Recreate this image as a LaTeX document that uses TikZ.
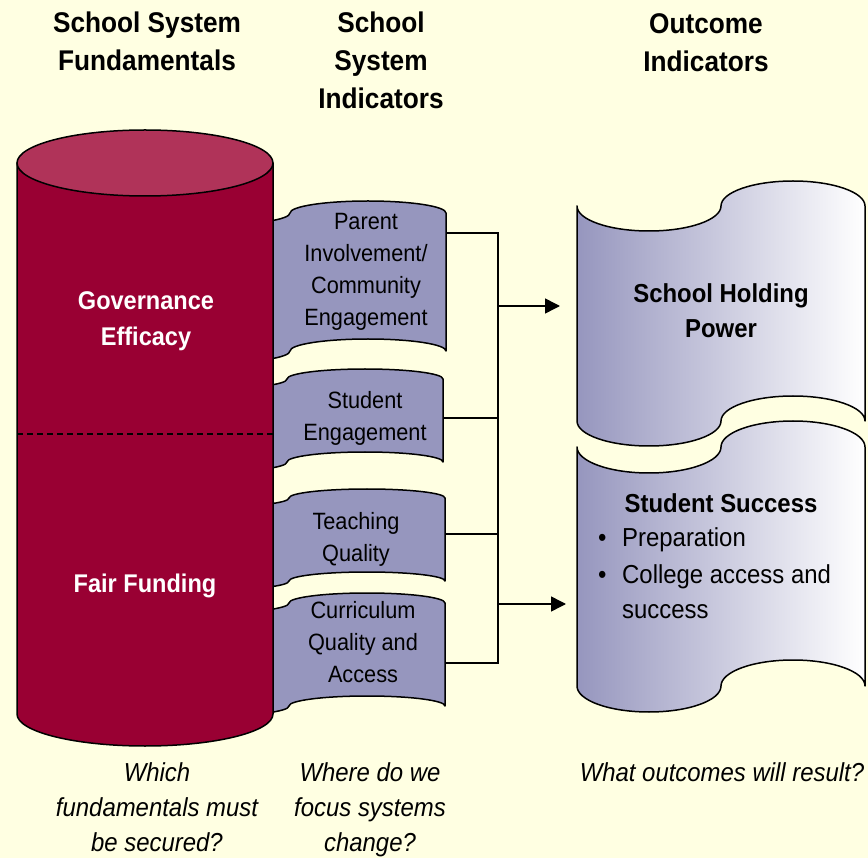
\documentclass[tikz,border=0pt]{standalone}
\usepackage{fontspec}
\setmainfont{Liberation Sans}[FakeStretch=0.92]
\usetikzlibrary{arrows.meta}
\definecolor{bgcol}{RGB}{255,255,226}
\definecolor{cylbody}{RGB}{153,0,51}
\definecolor{cyltop}{RGB}{176,51,89}
\definecolor{band}{RGB}{150,150,190}
\newcommand{\ptape}[5]{(#1,-#3) arc[start angle=180,end angle=360,x radius=#2/4,y radius=#5] arc[start angle=180,end angle=0,x radius=#2/4,y radius=#5] -- ++(0,#3-#4) arc[start angle=0,end angle=180,x radius=#2/4,y radius=#5] arc[start angle=0,end angle=-180,x radius=#2/4,y radius=#5] -- cycle}
\tikzset{
  outline/.style={draw=black, line width=1.5pt, line join=round},
  midband/.style={outline, fill=band},
  outband/.style={outline, left color=band, right color=white},
  conn/.style={draw=black, line width=1.5pt},
  arr/.style={conn, -{Triangle[length=15pt,width=15pt]}},
  hdr/.style={font=\fontsize{28.5}{38}\selectfont\bfseries, align=center, anchor=north, inner sep=0pt},
  cyltext/.style={font=\fontsize{25.6}{36}\selectfont\bfseries, text=white, align=center, inner sep=0pt},
  midtext/.style={font=\fontsize{23.6}{32}\selectfont, align=center, anchor=north, inner sep=0pt},
  outtitle/.style={font=\fontsize{26}{35}\selectfont\bfseries, align=center, inner sep=0pt},
  outitem/.style={font=\fontsize{26}{35}\selectfont, anchor=base west, inner sep=0pt},
  question/.style={font=\fontsize{26}{35}\selectfont\itshape, align=center, inner sep=0pt}
}
\begin{document}
\begin{tikzpicture}[x=1pt,y=1pt]
\useasboundingbox (0,0) rectangle (868,-858);
\fill[bgcol] (0,0) rectangle (868,-858);

% middle banners (partly behind the cylinder)
\path[midband] \ptape{134}{312}{213}{351}{12};
\path[midband] \ptape{131}{312}{379}{462}{10};
\path[midband] \ptape{133}{312}{498}{581}{9};
\path[midband] \ptape{133}{312}{603}{706}{10};

% outcome banners
\path[outband] \ptape{577}{288}{206}{421}{25};
\path[outband] \ptape{577}{288}{447}{686}{26};

% cylinder
\path[outline, fill=cylbody] (17,-163) -- (17,-714) arc[start angle=180,end angle=360,x radius=128,y radius=32] -- (273,-163) -- cycle;
\path[outline, fill=cyltop] (145,-163) ellipse [x radius=128, y radius=33];
\draw[line width=1.5pt, dash pattern=on 6pt off 4pt] (17,-434) -- (273,-434);

% connector points
\coordinate (pA) at (446,-233);
\coordinate (pB) at (443,-418);
\coordinate (pC) at (445,-534);
\coordinate (pD) at (445,-663);
\coordinate (bA) at (498,-233);
\coordinate (bB) at (498,-418);
\coordinate (bC) at (498,-534);
\coordinate (bD) at (498,-663);
\coordinate (s1) at (498,-306);
\coordinate (t1) at (560,-306);
\coordinate (s2) at (498,-604);
\coordinate (t2) at (566,-604);

\draw[conn] (pA) -- (bA) -- (bD) -- (pD);
\draw[conn] (pB) -- (bB);
\draw[conn] (pC) -- (bC);
\draw[arr] (s1) -- (t1);
\draw[arr] (s2) -- (t2);

% headers
\node[hdr] (h1) at (147,-11.5) {School System\\Fundamentals};
\node[hdr] (h2) at (381,-11.5) {School\\System\\Indicators};
\node[hdr] (h3) at (706,-13.5) {Outcome\\Indicators};

% cylinder labels
\node[cyltext, anchor=north] (gov) at (146,-291.5) {Governance\\Efficacy};
\node[cyltext, anchor=base] (fair) at (145,-592) {Fair Funding};

% indicator labels
\node[midtext] (mA) at (366,-213) {Parent\\Involvement/\\Community\\Engagement};
\node[midtext] (mB) at (365,-391.5) {Student\\Engagement};
\node[midtext] (mC) at (356,-512.5) {Teaching\\Quality};
\node[midtext] (mD) at (363,-601.5) {Curriculum\\Quality and\\Access};

% outcome labels
\node[outtitle, anchor=north] (oA) at (721,-283) {School Holding\\Power};
\node[outtitle, anchor=base] (oB) at (721,-512) {Student Success};
\node[outitem] (bu1) at (598,-547) {•};
\node[outitem] (it1) at (622,-547) {Preparation};
\node[outitem] (bu2) at (598,-583) {•};
\node[outitem] (it2) at (622,-583) {College access and};
\node[outitem] (it3) at (622,-618) {success};

% questions
\node[question, anchor=north] (q1) at (157,-762) {Which\\fundamentals must\\be secured?};
\node[question, anchor=north] (q2) at (370,-762) {Where do we\\focus systems\\change?};
\node[question, anchor=base] (q3) at (722,-781) {What outcomes will result?};
\end{tikzpicture}
\end{document}
